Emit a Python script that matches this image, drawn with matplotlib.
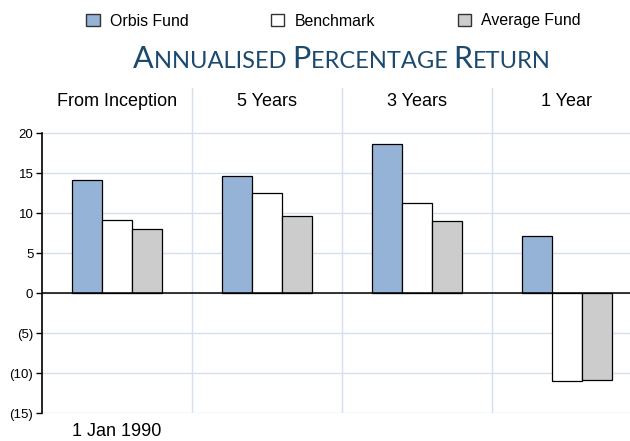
import matplotlib.pyplot as plt
import numpy as np
from matplotlib.patches import Patch
from matplotlib.ticker import FuncFormatter
from matplotlib.offsetbox import TextArea, HPacker, AnchoredOffsetbox

plt.rcParams['font.family'] = ['Liberation Sans', 'DejaVu Sans']

# Annualised returns (%)
periods = ['From Inception', '5 Years', '3 Years', '1 Year']
orbis = [14.2, 14.6, 18.6, 7.1]
benchmark = [9.2, 12.5, 11.3, -11.0]
average = [8.0, 9.6, 9.0, -10.9]
series_names = ['Orbis Fund', 'Benchmark', 'Average Fund']
inception_label = '1 Jan 1990'
yticks = [-15, -10, -5, 0, 5, 10, 15, 20]

colors = ['#95b3d7', '#ffffff', '#cccccc']
grid_col = '#d5dfee'

fig = plt.figure(figsize=(6.3, 4.41), dpi=100)
ax = fig.add_axes([41.7 / 630, 1 - 413.3 / 441, 600 / 630, 325.3 / 441])

x = np.arange(len(periods))
w = 0.2
for i, (vals, c) in enumerate(zip([orbis, benchmark, average], colors)):
    ax.bar(x + (i - 1) * w, vals, width=w, color=c, edgecolor='black',
           linewidth=0.9, zorder=3)

ax.set_xlim(-0.5, 3.5)
ax.set_ylim(-15, 25.66)
ax.set_yticks(yticks)
ax.yaxis.set_major_formatter(FuncFormatter(
    lambda v, p: f'({abs(int(v))})' if v < 0 else f'{int(v)}'))
ax.tick_params(axis='y', length=4, width=1, pad=2, labelsize=9.5, colors='black')
ax.set_xticks([])
ax.yaxis.grid(True, color=grid_col, linewidth=1, zorder=0)
ax.set_axisbelow(True)
for s in ['top', 'right', 'bottom']:
    ax.spines[s].set_visible(False)
ax.spines['left'].set_bounds(-15, 20)
ax.spines['left'].set_linewidth(1.2)

for xi in x[:-1] + 0.5:
    ax.axvline(xi, color=grid_col, linewidth=1, zorder=0)
ax.axhline(0, color='black', linewidth=1.1, zorder=4)

for xi, p in zip(x, periods):
    ax.text(xi, 23.95, p, ha='center', va='center', fontsize=13)
ax.text(x[0], -17.3, inception_label, ha='center', va='center', fontsize=13,
        clip_on=False)

# legend
handles = [Patch(facecolor=c, edgecolor='#333333', linewidth=1) for c in colors]
fig.legend(handles, series_names, loc='center', bbox_to_anchor=(333.5 / 630, 1 - 21 / 441),
           ncol=3, frameon=False, fontsize=11.4, handlelength=0.85, handleheight=0.85,
           handletextpad=0.65, columnspacing=5.2)

# small caps title
title_col = '#1b4a6e'
big, small = 22, 17
pieces = [('A', big), ('NNUALISED ', small), ('P', big), ('ERCENTAGE ', small),
          ('R', big), ('ETURN', small)]
areas = [TextArea(t, textprops=dict(size=s, color=title_col, family=['Lato', 'DejaVu Sans']))
         for t, s in pieces]
box = HPacker(children=areas, align='baseline', pad=0, sep=0)
anch = AnchoredOffsetbox(loc='center', child=box, pad=0, frameon=False,
                         bbox_to_anchor=(341.7 / 630, 1 - 59 / 441),
                         bbox_transform=fig.transFigure, borderpad=0)
fig.add_artist(anch)

fig.savefig('out.png', dpi=100)
